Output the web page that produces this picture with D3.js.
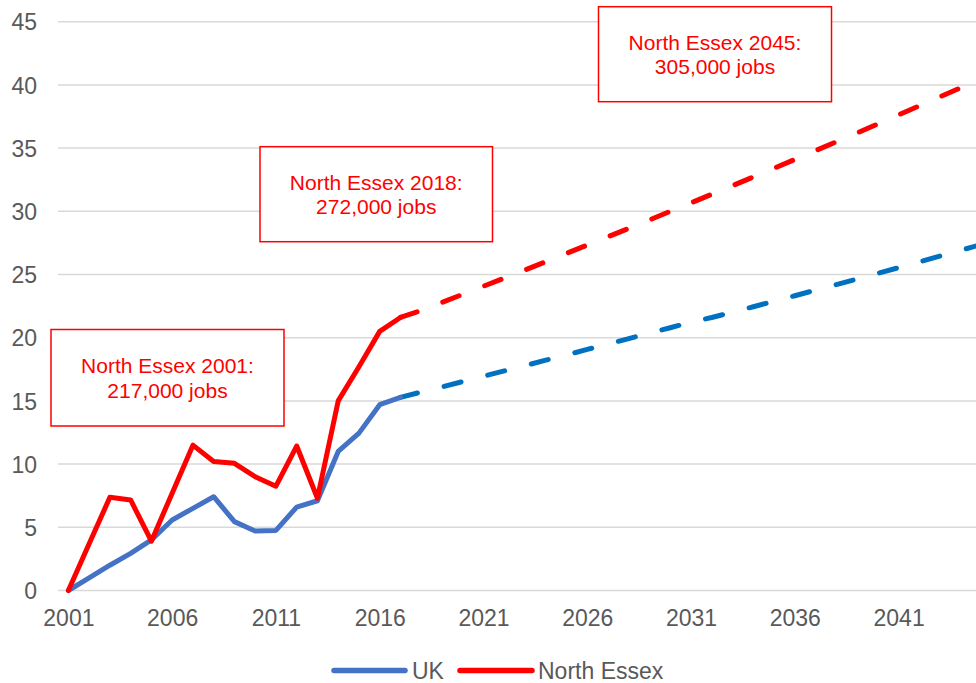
<!DOCTYPE html>
<html>
<head>
<meta charset="utf-8">
<script src="https://cdn.jsdelivr.net/npm/d3@7"></script>
<style>
  body { margin: 0; background: #fff; }
  svg { display: block; font-family: "Liberation Sans", Arial, sans-serif; }
</style>
</head>
<body>
<svg id="chart" width="976" height="683"></svg>
<script>
// ---------- DATA ----------
const categories = [2001,2002,2003,2004,2005,2006,2007,2008,2009,2010,2011,2012,2013,2014,2015,
  2016,2017,2018,2019,2020,2021,2022,2023,2024,2025,2026,2027,2028,2029,2030,2031,2032,2033,
  2034,2035,2036,2037,2038,2039,2040,2041,2042,2043,2044,2045];
const tickLabels = ["2001","2006","2011","2016","2021","2026","2031","2036","2041"];
const yTicks = [0,5,10,15,20,25,30,35,40,45];

const histYears = [2001,2002,2003,2004,2005,2006,2007,2008,2009,2010,2011,2012,2013,2014,2015,2016,2017];
const ukHist = [0,1.0,2.0,2.94,4.0,5.58,6.5,7.42,5.45,4.7,4.75,6.6,7.1,11.0,12.45,14.7,15.28];
const essexHist = [0,3.7,7.37,7.16,3.9,7.7,11.5,10.2,10.06,9.0,8.25,11.43,7.3,15.0,17.7,20.5,21.6];

const projYears = [2017,2018,2019,2020,2021,2022,2023,2024,2025,2026,2027,2028,2029,2030,2031,
  2032,2033,2034,2035,2036,2037,2038,2039,2040,2041,2042,2043,2044,2045];
const ukProj = [15.28,15.70,16.11,16.53,16.95,17.37,17.79,18.22,18.64,19.07,19.50,19.93,20.36,20.79,
  21.23,21.60,22.02,22.45,22.88,23.32,23.76,24.20,24.64,25.09,25.54,26.0,26.46,26.92,27.38];
const essexProj = [21.6,22.15,22.79,23.43,24.07,24.71,25.36,26.01,26.67,27.33,27.99,28.65,29.32,30.0,
  30.67,31.35,32.03,32.72,33.41,34.1,34.8,35.5,36.2,36.91,37.63,38.34,39.06,39.78,40.51];

const seriesNames = ["UK", "North Essex"];
const annotationLines = [
  ["North Essex 2001:", "217,000 jobs"],
  ["North Essex 2018:", "272,000 jobs"],
  ["North Essex 2045:", "305,000 jobs"]
];

// ---------- LAYOUT / STYLE ----------
const W = 976, H = 683;
const plot = { left: 58, right: 992, top: 21.7, bottom: 590.5 };
const colors = { uk: "#4472C4", ukProj: "#0070C0", essex: "#FF0000", grid: "#D9D9D9", text: "#595959" };
const boxes = [
  { x: 51, y: 329.5, w: 233, h: 96.5 },
  { x: 260, y: 146.7, w: 232.5, h: 95 },
  { x: 598.5, y: 6.7, w: 233, h: 95 }
];

const svg = d3.select("#chart");

const x = d3.scalePoint().domain(categories).range([plot.left, plot.right]).padding(0.5);
const y = d3.scaleLinear().domain([0, 45]).range([plot.bottom, plot.top]);

// gridlines
svg.append("g").selectAll("line").data(yTicks).join("line")
  .attr("x1", plot.left).attr("x2", plot.right)
  .attr("y1", d => y(d)).attr("y2", d => y(d))
  .attr("stroke", colors.grid).attr("stroke-width", 1.5);

// y axis labels
const yAxis = d3.axisLeft(y).tickValues(yTicks).tickSize(0).tickPadding(0);
const gy = svg.append("g").attr("transform", `translate(${37},0)`).call(yAxis);
gy.select(".domain").remove();
gy.selectAll("text").attr("fill", colors.text).attr("font-size", 23)
  .attr("font-family", '"Liberation Sans", Arial, sans-serif').attr("dy", "0.36em");

// x axis labels
const xAxis = d3.axisBottom(x).tickValues(tickLabels.map(Number)).tickSize(0).tickPadding(0).tickFormat(d => String(d));
const gx = svg.append("g").attr("transform", `translate(0,${609})`).call(xAxis);
gx.select(".domain").remove();
gx.selectAll("text").attr("fill", colors.text).attr("font-size", 23)
  .attr("font-family", '"Liberation Sans", Arial, sans-serif').attr("dy", "0.75em");

const line = d3.line().x(d => x(d[0])).y(d => y(d[1]));
const zip = (a, b) => a.map((v, i) => [v, b[i]]);

// projections (dashed)
svg.append("path").datum(zip(projYears, ukProj)).attr("d", line)
  .attr("fill", "none").attr("stroke", colors.ukProj).attr("stroke-width", 5)
  .attr("stroke-linecap", "round").attr("stroke-dasharray", "17.5,27.5");
svg.append("path").datum(zip(projYears, essexProj)).attr("d", line)
  .attr("fill", "none").attr("stroke", colors.essex).attr("stroke-width", 5)
  .attr("stroke-linecap", "round").attr("stroke-dasharray", "17.5,27.5");

// history (solid)
svg.append("path").datum(zip(histYears, ukHist)).attr("d", line)
  .attr("fill", "none").attr("stroke", colors.uk).attr("stroke-width", 5)
  .attr("stroke-linejoin", "round").attr("stroke-linecap", "round");
svg.append("path").datum(zip(histYears, essexHist)).attr("d", line)
  .attr("fill", "none").attr("stroke", colors.essex).attr("stroke-width", 5)
  .attr("stroke-linejoin", "round").attr("stroke-linecap", "round");

// annotation boxes
boxes.forEach((b, i) => {
  const g = svg.append("g");
  g.append("rect").attr("x", b.x).attr("y", b.y).attr("width", b.w).attr("height", b.h)
    .attr("fill", "#fff").attr("stroke", colors.essex).attr("stroke-width", 1.5);
  const cx = b.x + b.w / 2, cy = b.y + b.h / 2;
  g.selectAll("text").data(annotationLines[i]).join("text")
    .attr("x", cx).attr("y", (d, j) => cy + (j - 0.5) * 24.5)
    .attr("text-anchor", "middle").attr("dy", "0.36em")
    .attr("fill", colors.essex).attr("font-size", 21).text(d => d);
});

// legend
const legend = [
  { name: seriesNames[0], color: colors.uk, x1: 334, x2: 405, tx: 412 },
  { name: seriesNames[1], color: colors.essex, x1: 460, x2: 532, tx: 538 }
];
const lg = svg.append("g");
legend.forEach(l => {
  lg.append("line").attr("x1", l.x1).attr("x2", l.x2).attr("y1", 670.5).attr("y2", 670.5)
    .attr("stroke", l.color).attr("stroke-width", 5.5).attr("stroke-linecap", "round");
  lg.append("text").attr("x", l.tx).attr("y", 670.5).attr("dy", "0.36em")
    .attr("fill", colors.text).attr("font-size", 23).text(l.name);
});
</script>
</body>
</html>
